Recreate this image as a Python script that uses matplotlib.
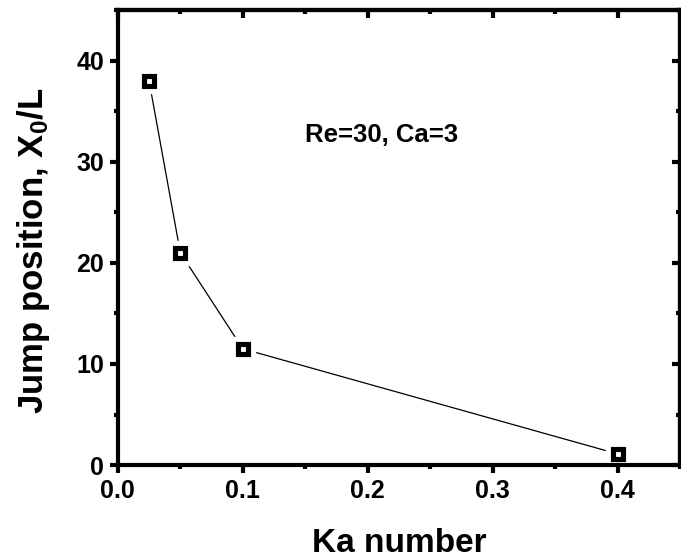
import matplotlib
matplotlib.use("Agg")
import matplotlib.pyplot as plt
from matplotlib.ticker import MultipleLocator

plt.rcParams['font.family'] = ['Liberation Sans', 'DejaVu Sans']
plt.rcParams['font.weight'] = 'bold'
plt.rcParams['mathtext.fontset'] = 'custom'
plt.rcParams['mathtext.rm'] = 'Liberation Sans:bold'
plt.rcParams['mathtext.it'] = 'Liberation Sans:bold'
plt.rcParams['mathtext.bf'] = 'Liberation Sans:bold'

ka = [0.025, 0.05, 0.1, 0.4]
jump = [38.0, 21.0, 11.5, 1.1]

fig = plt.figure(figsize=(6.81, 5.59), dpi=100)
ax = fig.add_axes([0.173, 0.168, 0.826, 0.814])

ax.plot(ka, jump, color='black', lw=0.9, zorder=1)
# white halo so the line stops short of the markers
ax.plot(ka, jump, ls='none', marker='s', ms=17, mfc='white', mec='white', zorder=2)
ax.plot(ka, jump, ls='none', marker='s', ms=7.5, mfc='white', mec='black', mew=3.7, zorder=3)

ax.set_xlim(0, 0.45)
ax.set_ylim(0, 45)
ax.xaxis.set_major_locator(MultipleLocator(0.1))
ax.xaxis.set_minor_locator(MultipleLocator(0.05))
ax.yaxis.set_major_locator(MultipleLocator(10))
ax.yaxis.set_minor_locator(MultipleLocator(5))

for s in ax.spines.values():
    s.set_linewidth(3)

ax.tick_params(axis='both', which='major', direction='out', length=6, width=3,
               labelsize=18, pad=4)
ax.tick_params(axis='both', which='minor', direction='out', length=3, width=3)
# inward ticks on top and right
axt = ax.secondary_xaxis('top')
axt.xaxis.set_major_locator(MultipleLocator(0.1))
axt.xaxis.set_minor_locator(MultipleLocator(0.05))
axt.tick_params(which='major', direction='in', length=6, width=3, labeltop=False)
axt.tick_params(which='minor', direction='in', length=3, width=3)
axr = ax.secondary_yaxis('right')
axr.yaxis.set_major_locator(MultipleLocator(10))
axr.yaxis.set_minor_locator(MultipleLocator(5))
axr.tick_params(which='major', direction='in', length=6, width=3, labelright=False)
axr.tick_params(which='minor', direction='in', length=3, width=3)
for a in (axt, axr):
    for s in a.spines.values():
        s.set_linewidth(3)

ax.set_xlabel('Ka number', fontsize=24, fontweight='bold', labelpad=18)
ax.set_ylabel('Jump position, X$_0$/L', fontsize=25, fontweight='bold')
ax.yaxis.set_label_coords(-0.117, 0.472)

ax.text(0.211, 32.6, 'Re=30, Ca=3', fontsize=18.5, fontweight='bold', ha='center', va='center')

fig.savefig('out.png', dpi=100)
